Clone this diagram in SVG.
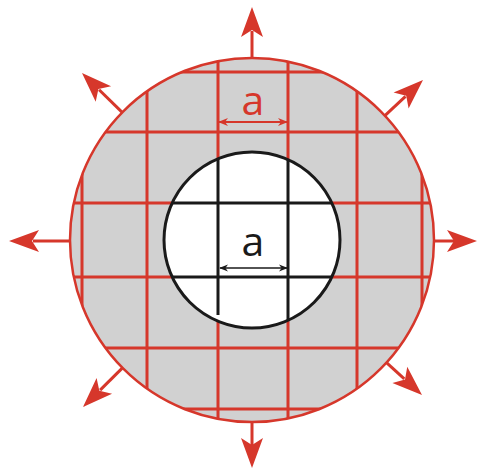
<svg xmlns="http://www.w3.org/2000/svg" width="485" height="475" viewBox="0 0 485 475">
<style>
.red{stroke:#d6372b;fill:none}
.grid{stroke:#d6372b;stroke-width:3;fill:none}
.blk{stroke:#1a1a1a;stroke-width:3;fill:none}
.shaft{stroke:#d6372b;stroke-width:3;fill:none}
.head{fill:#d6372b;stroke:none}
.lbl{font-family:"Open Sans","Liberation Sans",sans-serif;font-size:41px;text-anchor:middle}
</style>
<defs>
<clipPath id="outerClip"><circle cx="252" cy="240" r="182"/></clipPath>
<clipPath id="innerClip"><circle cx="252" cy="240" r="88"/></clipPath>
<path id="ah" d="M0,0 L-30,-11 L-23,0 L-30,11 Z"/>
<marker id="dr" viewBox="0 0 10 10" refX="9" refY="5" markerWidth="10" markerHeight="10" markerUnits="userSpaceOnUse" orient="auto-start-reverse">
<path d="M0,1 L10,5 L0,9 L3,5 Z" fill="#d6372b"/>
</marker>
<marker id="db" viewBox="0 0 10 10" refX="9" refY="5" markerWidth="9" markerHeight="9" markerUnits="userSpaceOnUse" orient="auto-start-reverse">
<path d="M0,1 L10,5 L0,9 L3,5 Z" fill="#1a1a1a"/>
</marker>
</defs>
<g id="outer-body">
<circle cx="252" cy="240" r="182" fill="#d1d1d1"/>
<g clip-path="url(#outerClip)" class="grid">
<line x1="82" y1="0" x2="82" y2="475"/>
<line x1="147" y1="0" x2="147" y2="475"/>
<line x1="218" y1="0" x2="218" y2="475"/>
<line x1="288" y1="0" x2="288" y2="475"/>
<line x1="357" y1="0" x2="357" y2="475"/>
<line x1="422" y1="0" x2="422" y2="475"/>
<line x1="0" y1="72" x2="485" y2="72"/>
<line x1="0" y1="132" x2="485" y2="132"/>
<line x1="0" y1="203" x2="485" y2="203"/>
<line x1="0" y1="277" x2="485" y2="277"/>
<line x1="0" y1="348" x2="485" y2="348"/>
<line x1="0" y1="409" x2="485" y2="409"/>
</g>
<circle cx="252" cy="240" r="182" class="red" stroke-width="2.5"/>
</g>
<g id="inner-body">
<circle cx="252" cy="240" r="88" fill="#ffffff"/>
<g clip-path="url(#innerClip)" class="blk">
<line x1="218" y1="140" x2="218" y2="315"/>
<line x1="288" y1="140" x2="288" y2="340"/>
<line x1="150" y1="203" x2="350" y2="203"/>
<line x1="150" y1="277" x2="350" y2="277"/>
</g>
<circle cx="252" cy="240" r="88" fill="none" stroke="#1a1a1a" stroke-width="3"/>
</g>
<g id="dim-outer">
<line x1="219" y1="122" x2="287" y2="122" stroke="#d6372b" stroke-width="2" marker-start="url(#dr)" marker-end="url(#dr)"/>
<text class="lbl" x="253" y="115" fill="#d6372b">a</text>
</g>
<g id="dim-inner">
<line x1="220" y1="268" x2="287" y2="268" stroke="#1a1a1a" stroke-width="1.5" marker-start="url(#db)" marker-end="url(#db)"/>
<text class="lbl" x="253" y="256" fill="#1a1a1a">a</text>
</g>
<g id="connectors">
<line class="shaft" x1="252" y1="58" x2="252" y2="31"/>
<use href="#ah" class="head" transform="translate(252,7) rotate(-90)"/>
<line class="shaft" x1="252" y1="422" x2="252" y2="446"/>
<use href="#ah" class="head" transform="translate(252,468) rotate(90)"/>
<line class="shaft" x1="70" y1="241" x2="33" y2="241"/>
<use href="#ah" class="head" transform="translate(9,241) rotate(180)"/>
<line class="shaft" x1="434" y1="241" x2="454" y2="241"/>
<use href="#ah" class="head" transform="translate(477,241)"/>
<line class="shaft" x1="122.2" y1="112.4" x2="99.1" y2="89.8"/>
<use href="#ah" class="head" transform="translate(82,73) rotate(-135.5)"/>
<line class="shaft" x1="384.9" y1="115.6" x2="405.5" y2="96.4"/>
<use href="#ah" class="head" transform="translate(423,80) rotate(-43.1)"/>
<line class="shaft" x1="122.5" y1="367.9" x2="100.1" y2="390.1"/>
<use href="#ah" class="head" transform="translate(83,407) rotate(135.3)"/>
<line class="shaft" x1="386.5" y1="362.6" x2="404.3" y2="378.8"/>
<use href="#ah" class="head" transform="translate(422,395) rotate(42.4)"/>
</g>
</svg>
